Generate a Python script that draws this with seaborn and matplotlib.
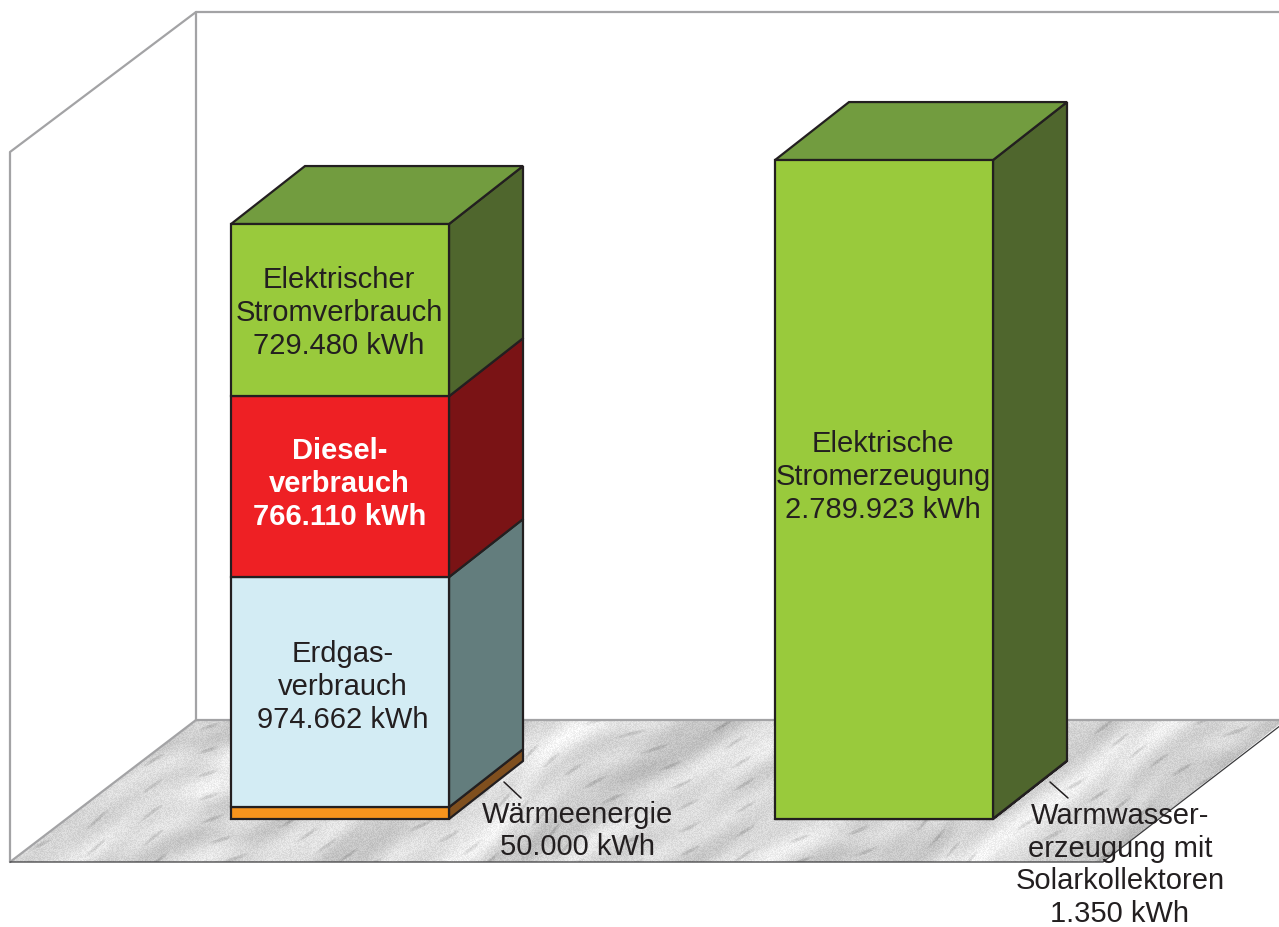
import numpy as np
import matplotlib
matplotlib.use("Agg")
import matplotlib.pyplot as plt
from matplotlib.patches import Polygon
import seaborn as sns

# ---- data ----
columns = ["Verbrauch", "Erzeugung"]
consumption_names = ["Wärmeenergie", "Erdgasverbrauch", "Dieselverbrauch", "Elektrischer Stromverbrauch"]
consumption_kwh = [50000, 974662, 766110, 729480]
generation_names = ["Warmwasser", "Elektrische Stromerzeugung"]
generation_kwh = [1350, 2789923]

front_consumption = ["#F7941D", "#D3ECF4", "#EE2024", "#99CA3C"]
side_consumption = ["#7F4F1E", "#637D7D", "#7A1315", "#4F662D"]
front_generation = ["#99CA3C", "#99CA3C"]
side_generation = ["#4F662D", "#4F662D"]
top_colour = "#729C3F"

# ---- layout: one axes that fills the figure ----
W, H = 1279, 927
KWH_PER_PX = 4236.0
PX_PER_CAT = 544.0
BASE_PY = 819.0
CENTER_PX = 340.0
BAR_WIDTH = 218.0 / PX_PER_CAT
DX = 74.0 / PX_PER_CAT
DY = 58.0 * KWH_PER_PX
EDGE = "#231F20"
WALL = "#A3A3A5"


def X(px):
    return (px - CENTER_PX) / PX_PER_CAT


def Y(py):
    return (BASE_PY - py) * KWH_PER_PX


def P(points):
    return [(X(a), Y(b)) for a, b in points]


sns.set_theme(style="white")
plt.rcParams["font.family"] = ["Liberation Sans", "DejaVu Sans"]
fig = plt.figure(figsize=(W / 100, H / 100), dpi=100, facecolor="white")
ax = fig.add_axes([0, 0, 1, 1])

# ---- floor: deterministic marble-like texture ----
floor_pts = [(10, 862), (196, 720), (1285, 720), (1103, 862)]
yy, xx = np.mgrid[700:880, 0:1285]
u = xx * 0.55 + yy * 0.84          # across the streaks
v = xx * 0.84 - yy * 0.55          # along the streaks
warp = 9 * np.sin(v * 0.013 + 0.7) + 6 * np.sin(v * 0.029 + u * 0.011 + 2.0)
clouds = (np.sin((u + warp) * 0.061 + 0.8 * np.sin(v * 0.0071))
          + 0.8 * np.sin((u - warp) * 0.117 + 1.7 * np.sin(v * 0.0113 + 1.0))
          + 0.6 * np.sin(u * 0.033 + v * 0.0061 + 2.0)
          + 0.5 * np.sin((u + 2 * warp) * 0.191 + v * 0.0037))
speckle = np.sin(xx * 12.9898 + yy * 78.233) * 43758.5453
speckle = speckle - np.floor(speckle)
patchy = np.sin(v * 0.047 + 2 * np.sin(u * 0.017)) * np.sin((u + warp) * 0.29 + 1.5 * np.sin(v * 0.019))
dark = np.clip(patchy - 0.78, 0, 1)
tex = 0.845 + 0.042 * clouds + 0.085 * (speckle - 0.5) - 0.50 * dark
floor_img = ax.imshow(tex, cmap="gray", vmin=0, vmax=1, aspect="auto", zorder=1,
                      extent=(X(0), X(1285), Y(880), Y(700)), interpolation="bilinear")
floor_patch = Polygon(P(floor_pts), closed=True, transform=ax.transData, facecolor="none", edgecolor="none")
ax.add_patch(floor_patch)
floor_img.set_clip_path(floor_patch)

# ---- walls ----
ax.plot(*zip(*P([(10, 862), (10, 152), (196, 12), (196, 720)])), color=WALL, lw=1.6, zorder=2)
ax.plot(*zip(*P([(196, 12), (1279, 12)])), color=WALL, lw=1.6, zorder=2)
ax.plot(*zip(*P([(196, 720), (1279, 720)])), color=WALL, lw=1.6, zorder=2)
ax.plot(*zip(*P([(10, 862), (196, 720)])), color=WALL, lw=1.6, zorder=2)
ax.plot(*zip(*P([(10, 862), (1103, 862), (1285, 722)])), color="#3A3A3C", lw=0.9, zorder=2)


# ---- bars ----
def stacked_column(index, values, fronts, sides):
    left = index - BAR_WIDTH / 2
    right = index + BAR_WIDTH / 2
    bottom = 0
    for value, front, side in zip(values, fronts, sides):
        sns.barplot(x=[columns[index]], y=[value], order=columns, bottom=bottom,
                    width=BAR_WIDTH, color=front, saturation=1, edgecolor=EDGE,
                    linewidth=1.6, ax=ax, zorder=4)
        top = bottom + value
        ax.add_patch(Polygon([(right, bottom), (right + DX, bottom + DY), (right + DX, top + DY), (right, top)],
                             closed=True, facecolor=side, edgecolor=EDGE, linewidth=1.6, zorder=3))
        bottom = top
    ax.add_patch(Polygon([(left, bottom), (right, bottom), (right + DX, bottom + DY), (left + DX, bottom + DY)],
                         closed=True, facecolor=top_colour, edgecolor=EDGE, linewidth=1.6, zorder=3))


stacked_column(0, consumption_kwh, front_consumption, side_consumption)
stacked_column(1, generation_kwh, front_generation, side_generation)

# ---- leader lines ----
ax.plot(*zip(*P([(504, 782), (521, 798)])), color=EDGE, lw=1.1, zorder=5)
ax.plot(*zip(*P([(1050, 782), (1068, 798)])), color=EDGE, lw=1.1, zorder=5)


# ---- labels ----
def label(px, py, text, **kw):
    style = dict(ha="center", va="center", fontsize=21, color=EDGE, linespacing=1.22, zorder=6)
    style.update(kw)
    ax.text(X(px), Y(py), text, **style)


label(339, 313, "Elektrischer\nStromverbrauch\n729.480 kWh")
label(339.5, 484, "Diesel-\nverbrauch\n766.110 kWh", color="white", fontweight="bold")
label(343, 687, "Erdgas-\nverbrauch\n974.662 kWh")
label(577, 831, "Wärmeenergie\n50.000 kWh")
label(883, 477, "Elektrische\nStromerzeugung\n2.789.923 kWh")
label(1120, 865, "Warmwasser-\nerzeugung mit\nSolarkollektoren\n1.350 kWh")

ax.set_xlim(X(0), X(W))
ax.set_ylim(Y(H), Y(0))
ax.axis("off")
fig.savefig("out.png", dpi=100, facecolor="white")
